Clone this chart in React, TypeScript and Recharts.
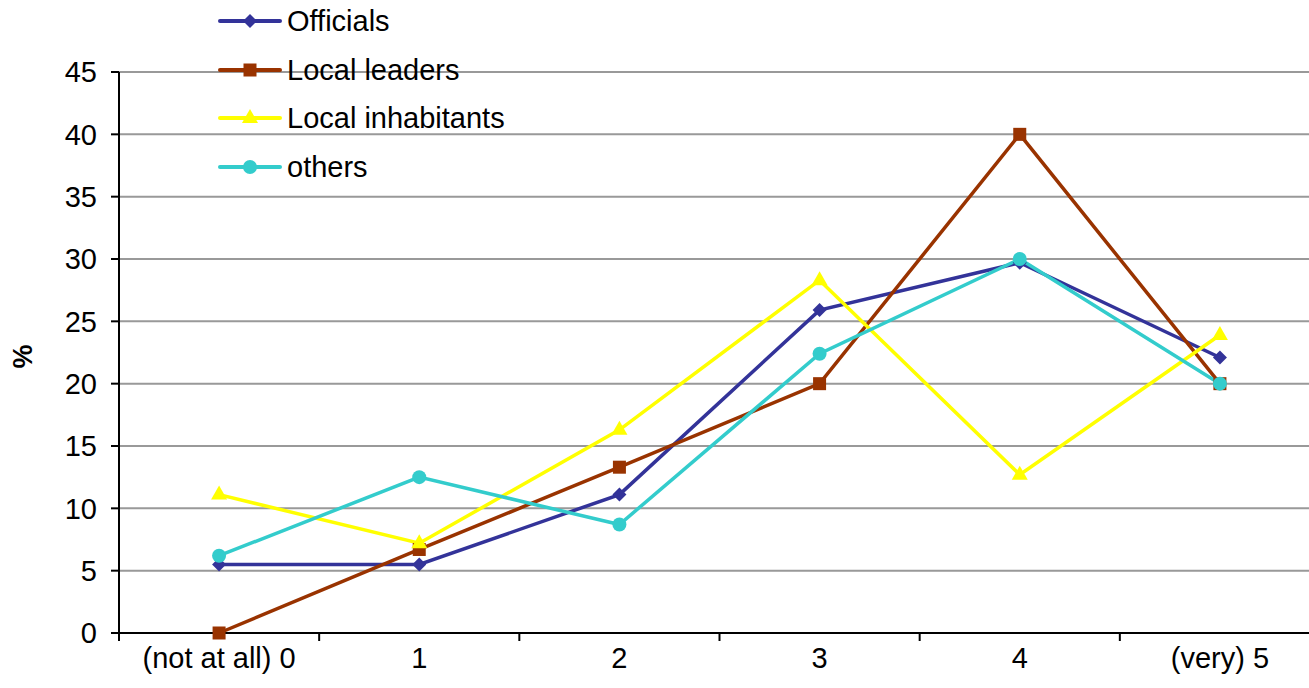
import { LineChart, Line, XAxis, YAxis, CartesianGrid, Legend } from "recharts";

// ─── Data ────────────────────────────────────────────────────────────────────
const categories = ["(not at all) 0", "1", "2", "3", "4", "(very) 5"];
const officials = [5.5, 5.5, 11.1, 25.9, 29.7, 22.1];
const localLeaders = [0, 6.7, 13.3, 20, 40, 20];
const localInhabitants = [11.1, 7.2, 16.3, 28.3, 12.7, 23.9];
const others = [6.2, 12.5, 8.7, 22.4, 30, 20];
const yTicks = [0, 5, 10, 15, 20, 25, 30, 35, 40, 45];

const FONT = '"Liberation Sans", Arial, sans-serif';

const data = categories.map((cat, i) => ({
  x: i,
  cat,
  officials: officials[i],
  localLeaders: localLeaders[i],
  localInhabitants: localInhabitants[i],
  others: others[i],
}));

// category centres get labels, boundaries get tick marks
const xTicks = categories.flatMap((_, i) => [i - 0.5, i]).concat(categories.length - 0.5);

// ─── Markers ─────────────────────────────────────────────────────────────────
type Shape = "diamond" | "square" | "triangle" | "circle";

function Marker({ cx, cy, shape, color }: { cx: number; cy: number; shape: Shape; color: string }) {
  if (cx == null || cy == null) return null;
  if (shape === "diamond")
    return <polygon points={`${cx},${cy - 7} ${cx + 7},${cy} ${cx},${cy + 7} ${cx - 7},${cy}`} fill={color} />;
  if (shape === "square") return <rect x={cx - 6.5} y={cy - 6.5} width={13} height={13} fill={color} />;
  if (shape === "triangle")
    return <polygon points={`${cx},${cy - 9} ${cx + 8},${cy + 5} ${cx - 8},${cy + 5}`} fill={color} />;
  return <circle cx={cx} cy={cy} r={7} fill={color} />;
}

const series: { key: string; name: string; color: string; shape: Shape }[] = [
  { key: "officials", name: "Officials", color: "#333399", shape: "diamond" },
  { key: "localLeaders", name: "Local leaders", color: "#993300", shape: "square" },
  { key: "localInhabitants", name: "Local inhabitants", color: "#FFFF00", shape: "triangle" },
  { key: "others", name: "others", color: "#33CCCC", shape: "circle" },
];

// ─── Axis ticks ──────────────────────────────────────────────────────────────
function XTick({ x, y, payload }: any) {
  const v = payload.value;
  if (Number.isInteger(v)) {
    return (
      <text x={x} y={y + 27} textAnchor="middle" fontSize={29} fontFamily={FONT} fill="#000">
        {categories[v]}
      </text>
    );
  }
  return <line x1={x} y1={y - 8} x2={x} y2={y} stroke="#000" strokeWidth={2} />;
}

function PercentLabel({ viewBox }: any) {
  const x = viewBox.x + 32;
  const y = viewBox.y + viewBox.height / 2 + 4;
  return (
    <text
      x={x}
      y={y}
      transform={`rotate(-90 ${x} ${y})`}
      textAnchor="middle"
      fontSize={27}
      fontWeight="bold"
      fontFamily={FONT}
      fill="#000"
    >
      %
    </text>
  );
}

// ─── Legend ──────────────────────────────────────────────────────────────────
function CustomLegend() {
  return (
    <div style={{ fontFamily: FONT, fontSize: 29, color: "#000" }}>
      {series.map((s) => (
        <div key={s.key} style={{ display: "flex", alignItems: "center", height: 48.5 }}>
          <svg width={69} height={48} style={{ display: "block" }}>
            <line x1={2} y1={24} x2={62} y2={24} stroke={s.color} strokeWidth={4} strokeLinecap="round" />
            <Marker cx={32} cy={24} shape={s.shape} color={s.color} />
          </svg>
          <span style={{ lineHeight: "48px", whiteSpace: "nowrap" }}>{s.name}</span>
        </div>
      ))}
    </div>
  );
}

// ─── Main ────────────────────────────────────────────────────────────────────
export default function App() {
  return (
    <div style={{ position: "absolute", left: 0, top: 0, width: 1309, height: 688, overflow: "hidden", background: "#fff" }}>
      <LineChart width={1330} height={688} data={data} margin={{ top: 72, right: 10, left: 0, bottom: 0 }}>
        <CartesianGrid vertical={false} stroke="#999" strokeWidth={2} />
        <XAxis
          dataKey="x"
          type="number"
          domain={[-0.5, 5.5]}
          ticks={xTicks}
          interval={0}
          height={55}
          tickLine={false}
          tickSize={8}
          tickMargin={0}
          axisLine={{ stroke: "#000", strokeWidth: 2 }}
          tick={<XTick />}
        />
        <YAxis
          type="number"
          domain={[0, 45]}
          ticks={yTicks}
          interval={0}
          width={119}
          tickSize={8}
          tickMargin={14}
          axisLine={{ stroke: "#000", strokeWidth: 2 }}
          tickLine={{ stroke: "#000", strokeWidth: 2 }}
          tick={{ fontSize: 29, fill: "#000", fontFamily: FONT }}
          label={<PercentLabel />}
        />
        <Legend
          layout="vertical"
          align="center"
          verticalAlign="middle"
          content={<CustomLegend />}
          wrapperStyle={{ top: -3, left: 218, width: "auto" }}
        />
        {series.map((s) => (
          <Line
            key={s.key}
            type="linear"
            dataKey={s.key}
            name={s.name}
            stroke={s.color}
            strokeWidth={3.5}
            isAnimationActive={false}
            dot={(p: any) => <Marker key={`${s.key}-${p.index}`} cx={p.cx} cy={p.cy} shape={s.shape} color={s.color} />}
            activeDot={false}
          />
        ))}
      </LineChart>
    </div>
  );
}
